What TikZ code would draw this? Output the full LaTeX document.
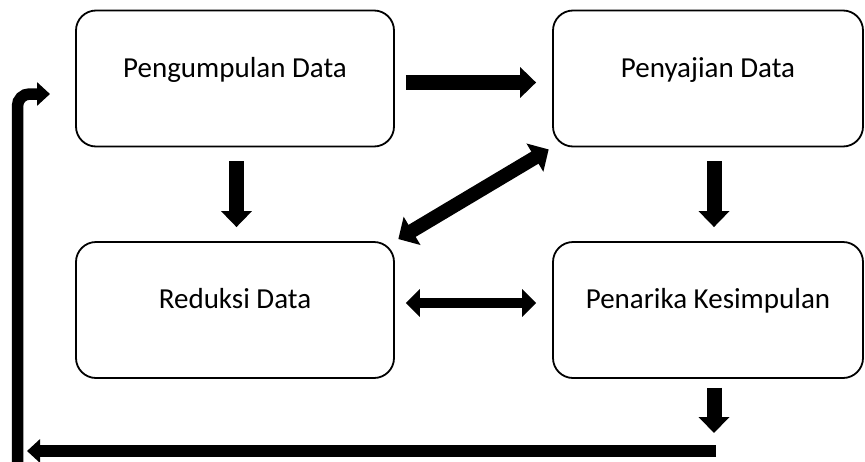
\documentclass[tikz,border=0pt]{standalone}
\usepackage{fontspec}
\setmainfont{Carlito}
\usetikzlibrary{arrows.meta,calc}
\newcommand{\uptext}[1]{\raisebox{1.5pt}[0pt][0pt]{#1}}
\begin{document}
\begin{tikzpicture}[x=1pt,y=-1pt,
  box/.style={draw,line width=1.8pt,rounded corners=20pt,minimum height=136pt,align=center,
    font=\fontsize{29}{34}\selectfont},
  arrA/.style={line width=15pt,-{Triangle[width=30pt,length=16pt]}},
  arrD/.style={line width=10pt,{Triangle[width=27pt,length=14pt]}-{Triangle[width=27pt,length=14pt]}},
  arrG/.style={line width=14pt,{Triangle[width=32pt,length=16pt]}-{Triangle[width=32pt,length=16pt]}},
  arrL/.style={line width=11.5pt,-{Triangle[width=23pt,length=13pt]}}]
\useasboundingbox (0,0) rectangle (865,461);
\node[box,minimum width=318pt] (b1) at (235,78.5) {\uptext{Pengumpulan Data}};
\node[box,minimum width=310pt] (b2) at (708,78.5) {\uptext{Penyajian Data}};
\node[box,minimum width=318pt] (b3) at (235,310) {\uptext{Reduksi Data}};
\node[box,minimum width=310pt] (b4) at (708,310) {\uptext{Penarika Kesimpulan}};
% top horizontal
\draw[arrA,shorten <=11pt,shorten >=16pt] ([yshift=-4pt]b1.east) -- ([yshift=-4pt]b2.west);
% down arrows
\draw[arrA,shorten <=14pt,shorten >=14pt] ([xshift=1.5pt]b1.south) -- ([xshift=1.5pt]b3.north);
\draw[arrA,shorten <=14pt,shorten >=14pt] ([xshift=6pt]b2.south) -- ([xshift=6pt]b4.north);
% diagonal
\draw[arrG,shorten <=4pt,shorten >=4pt] (b3.north east) -- (b2.south west);
% bottom double
\draw[arrD,shorten <=11pt,shorten >=16pt] ([yshift=7pt]b3.east) -- ([yshift=7pt]b4.west);
% bottom right down
\coordinate (d2) at (714,433);
\draw[arrA,shorten <=9pt] ([xshift=6pt]b4.south) -- (d2);
% long return line
\coordinate (r1) at (716,451);
\coordinate (r2) at (27,451);
\draw[line width=12pt,-{Triangle[width=23pt,length=13pt]}] (r1) -- (r2);
\coordinate (l0) at (17.5,470);
\coordinate (l1) at (50,94);
\draw[arrL,rounded corners=12pt] (l0) |- (l1);
\end{tikzpicture}
\end{document}
